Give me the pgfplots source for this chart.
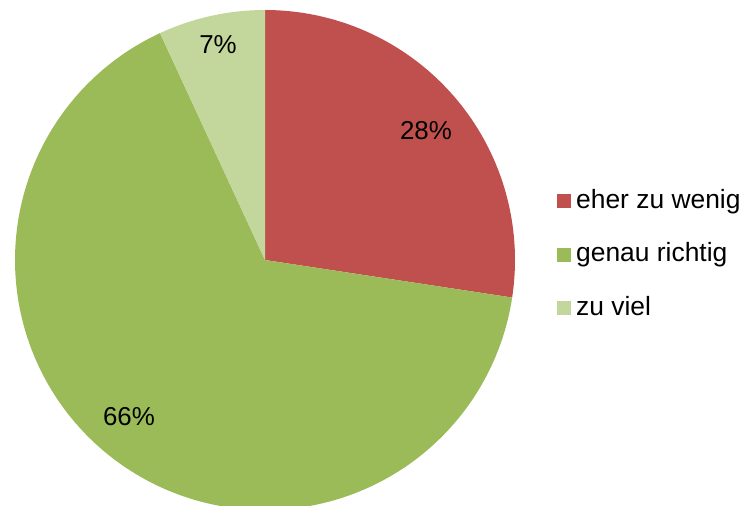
\documentclass[border=0pt]{standalone}
\usepackage{pgfplots}
\pgfplotsset{compat=1.18}
\usepackage{pgfplotstable}
\usepackage{fontspec}
\setmainfont{Liberation Sans}
\definecolor{cRed}{HTML}{C0504D}
\definecolor{cGreen}{HTML}{9BBB59}
\definecolor{cLight}{HTML}{C3D69B}
\pgfplotstableread{
label value
eher 27.4
genau 65.7
viel 6.9
}\piedata
\pgfplotstablegetelem{0}{value}\of\piedata \let\va\pgfplotsretval
\pgfplotstablegetelem{1}{value}\of\piedata \let\vb\pgfplotsretval
\pgfplotstablegetelem{2}{value}\of\piedata \let\vc\pgfplotsretval
\pgfmathsetmacro{\tot}{\va+\vb+\vc}
\pgfmathsetmacro{\aB}{90-360*(\va/\tot)}
\pgfmathsetmacro{\aC}{\aB-360*(\vb/\tot)}
\begin{document}
\begin{tikzpicture}
\begin{axis}[
  width=747bp, height=506bp, scale only axis,
  xmin=0, xmax=747, ymin=0, ymax=506,
  hide axis, clip=true,
  legend image code/.code={\fill[#1] (0bp,-7bp) rectangle (14bp,7bp);},
  legend cell align=left,
  legend style={draw=none, fill=none, at={(axis cs:557,317)}, anchor=north west,
    font=\fontsize{26.5}{30}\selectfont, row sep=29.5bp, inner sep=0pt,
    nodes={inner sep=0pt, text height=19bp, text depth=5bp},
    /tikz/every odd column/.style={column sep=5bp}},
]
\addplot[draw=none, fill=cRed, domain=\aB:90, samples=90, variable=\t]
  ({265+250*cos(\t)},{246+250*sin(\t)}) -- (265,246) -- cycle;
\addlegendentry{eher zu wenig}
\addplot[draw=none, fill=cGreen, domain=\aC:\aB, samples=180, variable=\t]
  ({265+250*cos(\t)},{246+250*sin(\t)}) -- (265,246) -- cycle;
\addlegendentry{genau richtig}
\addplot[draw=none, fill=cLight, domain=-270:\aC, samples=40, variable=\t]
  ({265+250*cos(\t)},{246+250*sin(\t)}) -- (265,246) -- cycle;
\addlegendentry{zu viel}
\node[font=\fontsize{26}{30}\selectfont] at (426,375) {28\%};
\node[font=\fontsize{26}{30}\selectfont] at (218,461) {7\%};
\node[font=\fontsize{26}{30}\selectfont] at (129,89) {66\%};
\end{axis}
\pgfresetboundingbox
\useasboundingbox (current axis.south west) rectangle (current axis.north east);
\end{tikzpicture}
\end{document}
